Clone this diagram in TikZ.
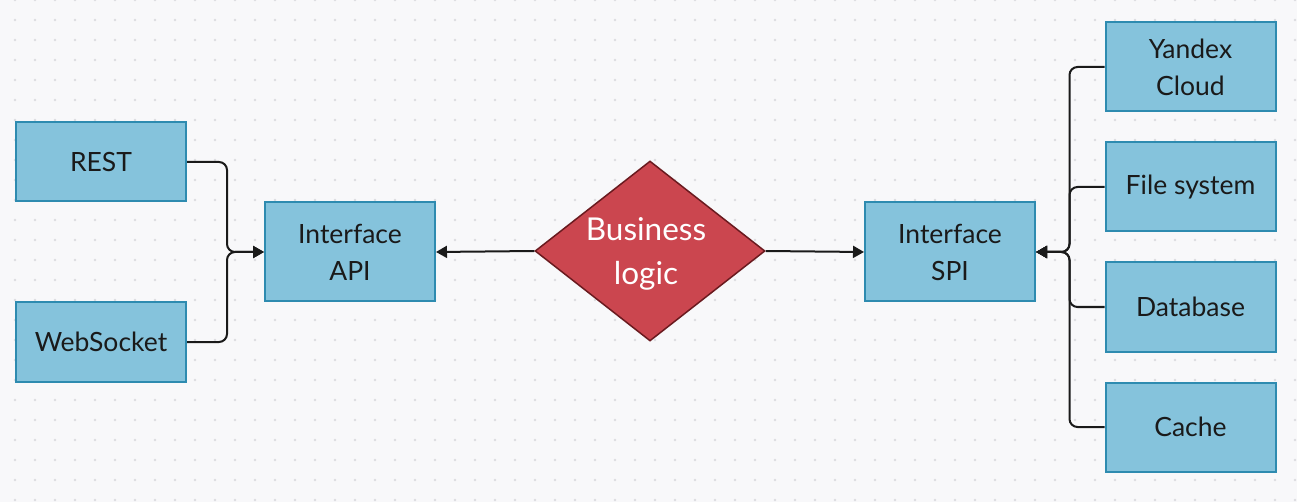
\documentclass[tikz,border=0pt]{standalone}
\usepackage{fontspec}
\setmainfont{Lato}
\usetikzlibrary{shapes.geometric,arrows.meta}
\definecolor{bgc}{HTML}{F8F8FA}
\definecolor{dotc}{HTML}{DCDCE0}
\definecolor{boxfill}{HTML}{85C3DC}
\definecolor{boxline}{HTML}{2E8BB0}
\definecolor{dfill}{HTML}{CB464F}
\definecolor{dline}{HTML}{6A1A1F}
\definecolor{txt}{HTML}{1A1A1A}
\tikzset{
  box/.style={draw=boxline, fill=boxfill, line width=2pt, minimum width=170pt, inner sep=0pt, align=center, text=txt, font=\fontsize{26.5}{37}\selectfont},
  conn/.style={draw=txt, line width=2pt, rounded corners=8pt},
  arr/.style={-{Triangle[length=11pt,width=12pt]}},
}
\begin{document}
\begin{tikzpicture}[x=1pt,y=-1pt]
\fill[bgc] (0,0) rectangle (1297,502);
\useasboundingbox (0,0) rectangle (1297,502);
\foreach \i in {0,...,64} {
  \foreach \j in {0,...,25} {
    \fill[dotc] (15+20*\i, 20*\j) circle (1.3pt);
  }
}
% left boxes
\node[box, minimum height=79pt] (rest) at (101,162) {REST};
\node[box, minimum height=79pt] (ws) at (101,342) {WebSocket};
\node[box, minimum height=99pt] (api) at (350,252) {Interface\\API};
\node[box, minimum height=99pt] (spi) at (950,252) {Interface\\SPI};
% right boxes
\node[box, minimum height=89pt] (yc) at (1190.5,67) {Yandex\\Cloud};
\node[box, minimum height=89pt] (fs) at (1190.5,187) {File system};
\node[box, minimum height=89pt] (db) at (1190.5,307) {Database};
\node[box, minimum height=89pt] (cache) at (1190.5,427) {Cache};
% diamond
\node[diamond, draw=dline, fill=dfill, line width=1.5pt, minimum width=230pt, minimum height=180pt, inner sep=0pt, aspect=1.2778] (bl) at (650,251) {};
\node[text=white, align=center, font=\fontsize{31.5}{44}\selectfont] (bltext) at (646,254) {Business\\logic};
% connectors
\draw[conn, arr] (rest.east) -- ++(40,0) |- (api.west);
\draw[conn, arr] (ws.east) -- ++(40,0) |- (api.west);
\draw[conn, arr] (bl.west) -- (api.east);
\draw[conn, arr] (bl.east) -- (spi.west);
\draw[conn, arr] (yc.west) -- ++(-35,0) |- (spi.east);
\draw[conn, arr] (fs.west) -- ++(-35,0) |- (spi.east);
\draw[conn, arr] (db.west) -- ++(-35,0) |- (spi.east);
\draw[conn, arr] (cache.west) -- ++(-35,0) |- (spi.east);
\end{tikzpicture}
\end{document}
